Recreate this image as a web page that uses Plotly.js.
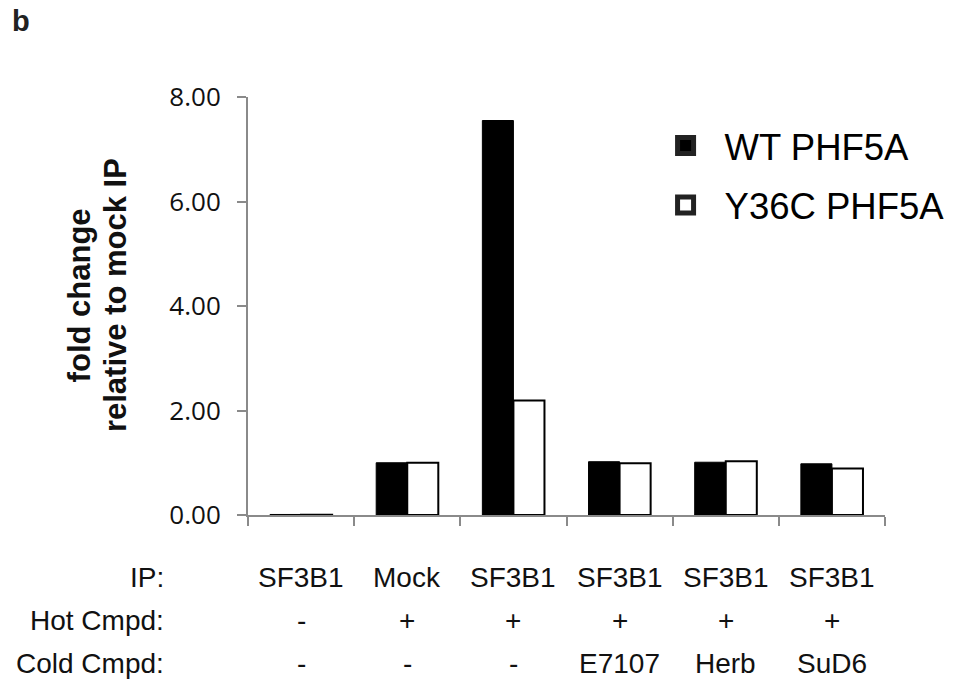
<!DOCTYPE html>
<html>
<head>
<meta charset="utf-8">
<script src="https://cdn.plot.ly/plotly-3.0.1.min.js"></script>
<style>html,body{margin:0;padding:0;background:#fff;}#chart{width:953px;height:688px;}</style>
</head>
<body>
<div id="chart"></div>
<script>
// ---- data ----
const categories = ["c1", "c2", "c3", "c4", "c5", "c6"];
const seriesNames = ["WT PHF5A", "Y36C PHF5A"];
const wtValues = [0.01, 1.00, 7.55, 1.02, 1.01, 0.98];
const y36cValues = [0.006, 1.00, 2.19, 0.99, 1.03, 0.89];
const yTickValues = [0, 2, 4, 6, 8];
const rowLabels = ["IP:", "Hot Cmpd:", "Cold Cmpd:"];
const ipRow = ["SF3B1", "Mock", "SF3B1", "SF3B1", "SF3B1", "SF3B1"];
const hotRow = ["-", "+", "+", "+", "+", "+"];
const coldRow = ["-", "-", "-", "E7107", "Herb", "SuD6"];
const yTitleLines = ["fold change", "relative to mock IP"];

const ARIAL = "Liberation Sans, Arial, sans-serif";
const rows = [ipRow, hotRow, coldRow];
const rowY = [-0.149, -0.252, -0.355];

const traces = [
  {type: "bar", x: categories, y: wtValues, name: seriesNames[0], showlegend: false,
   legendgroup: "wt", marker: {color: "#000000", line: {color: "#000000", width: 1}}},
  {type: "bar", x: categories, y: y36cValues, name: seriesNames[1], showlegend: false,
   legendgroup: "y36c", marker: {color: "#ffffff", line: {color: "#000000", width: 2}}},
  {type: "scatter", mode: "markers", x: [null], y: [null], name: seriesNames[0], legendgroup: "wt",
   marker: {symbol: "square", size: 16, color: "#000000", line: {color: "#222222", width: 5}}},
  {type: "scatter", mode: "markers", x: [null], y: [null], name: seriesNames[1], legendgroup: "y36c",
   marker: {symbol: "square", size: 16, color: "#ffffff", line: {color: "#222222", width: 5}}}
];

const annotations = [];
rows.forEach((row, r) => {
  row.forEach((txt, i) => {
    annotations.push({x: categories[i], xref: "x", y: rowY[r], yref: "paper", text: txt,
      showarrow: false, xanchor: "center", yanchor: "middle", font: {family: ARIAL, size: 28, color: "#111"}});
  });
  annotations.push({x: -0.128, xref: "paper", y: rowY[r], yref: "paper", text: rowLabels[r],
    showarrow: false, xanchor: "right", yanchor: "middle", font: {family: ARIAL, size: 28, color: "#111"}});
});
// y-axis title (two rotated lines)
const titleX = [-0.2640, -0.2080];
yTitleLines.forEach((t, k) => {
  annotations.push({x: titleX[k], xref: "paper", y: 0.525, yref: "paper", text: "<b>" + t + "</b>",
    textangle: -90, showarrow: false, xanchor: "center", yanchor: "middle",
    font: {family: ARIAL, size: 31, color: "#111"}});
});
annotations.push({x: -0.374, xref: "paper", y: 1.183, yref: "paper", text: "<b>b</b>", showarrow: false,
  xanchor: "left", yanchor: "middle", font: {family: ARIAL, size: 29, color: "#222"}});

const layout = {
  width: 953, height: 688,
  margin: {l: 248, r: 68, t: 97, b: 173, autoexpand: false},
  paper_bgcolor: "#ffffff", plot_bgcolor: "#ffffff",
  barmode: "group", bargap: 0.415, bargroupgap: 0,
  showlegend: true,
  legend: {x: 0.6257, xanchor: "left", y: 0.956, yanchor: "top", bgcolor: "rgba(0,0,0,0)",
    font: {family: ARIAL, size: 36.5, color: "#000"}, itemwidth: 68, tracegroupgap: 9, traceorder: "grouped"},
  xaxis: {type: "category", range: [-0.5, 5.5], showticklabels: false, showgrid: false, zeroline: false,
    showline: true, linecolor: "#8a8a8a", linewidth: 2, ticks: "outside", tickson: "boundaries",
    ticklen: 9, tickcolor: "#8a8a8a", tickwidth: 2, fixedrange: true},
  yaxis: {range: [0, 8], tickvals: yTickValues, tickformat: ".2f", showgrid: false, zeroline: false,
    showline: true, linecolor: "#8a8a8a", linewidth: 2, ticks: "outside", ticklen: 9,
    tickcolor: "#8a8a8a", tickwidth: 2, ticklabelstandoff: 11,
    tickfont: {family: "Open Sans, sans-serif", size: 26, color: "#111"}, fixedrange: true},
  annotations: annotations
};

Plotly.newPlot("chart", traces, layout, {displayModeBar: false, staticPlot: true});
</script>
</body>
</html>
